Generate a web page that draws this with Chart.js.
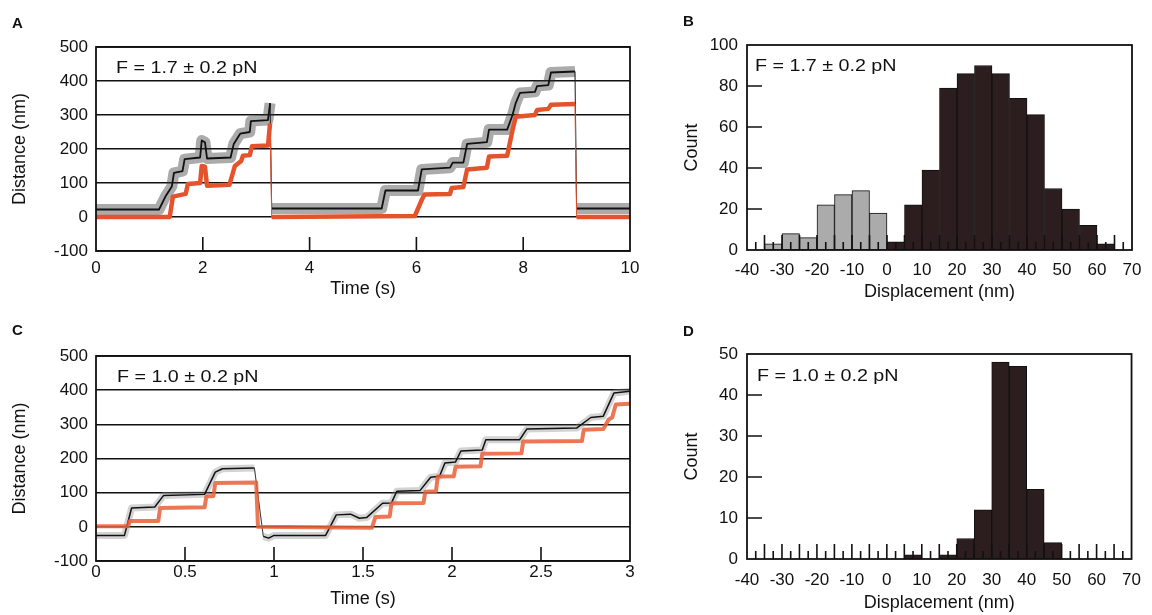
<!DOCTYPE html>
<html>
<head>
<meta charset="utf-8">
<script src="https://cdn.jsdelivr.net/npm/chart.js@4.4.1/dist/chart.umd.min.js"></script>
<style>
  html, body { margin: 0; padding: 0; background: #fff; }
  #wrap { position: relative; width: 1152px; height: 615px; overflow: hidden; background: #fff; }
  canvas { position: absolute; }
</style>
</head>
<body>
<div id="wrap">
  <canvas id="cA" width="660" height="310" style="left:0;top:0"></canvas>
  <canvas id="cB" width="492" height="310" style="left:660px;top:0"></canvas>
  <canvas id="cC" width="660" height="305" style="left:0;top:310px"></canvas>
  <canvas id="cD" width="492" height="305" style="left:660px;top:310px"></canvas>
</div>
<script>
// ---------- Panel A (F = 1.7 pN) traces ----------
const timeBlackA = [0, 1.18, 1.3, 1.42, 1.46, 1.62, 1.66, 1.95, 1.98, 2.04, 2.08, 2.52, 2.58, 2.7, 2.88, 2.9, 3.22, 3.26, 3.29, 5.35, 5.42, 6.03, 6.1, 6.63, 6.68, 6.88, 6.95, 7.32, 7.36, 7.7, 7.8, 7.86, 7.94, 8.22, 8.26, 8.47, 8.52, 8.97, 9.0, 10];
const distBlackA = [22, 22, 60, 90, 130, 135, 170, 175, 225, 220, 172, 175, 215, 245, 250, 282, 285, 335, 25, 25, 78, 78, 140, 145, 160, 160, 215, 220, 257, 257, 300, 335, 365, 368, 385, 388, 425, 428, 25, 25];
const timeRedA = [0, 1.38, 1.44, 1.68, 1.72, 1.95, 1.98, 2.04, 2.08, 2.5, 2.6, 2.72, 2.75, 2.88, 2.92, 3.22, 3.26, 3.29, 5.97, 6.1, 6.15, 6.63, 6.66, 6.88, 6.95, 7.32, 7.36, 7.7, 7.8, 7.86, 8.22, 8.26, 8.47, 8.52, 8.97, 9.0, 10];
const distRedA = [0, 0, 60, 68, 97, 100, 150, 148, 92, 95, 150, 165, 180, 182, 208, 210, 275, 0, 3, 50, 66, 68, 85, 88, 140, 145, 178, 180, 255, 295, 300, 315, 318, 330, 332, 0, 0];

// ---------- Panel C (F = 1.0 pN) traces ----------
const timeBlackC = [0, 0.16, 0.2, 0.33, 0.38, 0.61, 0.67, 0.71, 0.89, 0.94, 0.97, 1.0, 1.29, 1.35, 1.43, 1.48, 1.52, 1.61, 1.66, 1.69, 1.82, 1.88, 1.93, 1.96, 2.02, 2.05, 2.17, 2.19, 2.38, 2.42, 2.7, 2.78, 2.85, 2.91, 3.0];
const distBlackC = [-25, -25, 55, 58, 92, 95, 160, 170, 172, -28, -33, -25, -25, 35, 37, 25, 27, 69, 70, 104, 106, 145, 148, 187, 190, 222, 225, 255, 255, 286, 289, 320, 324, 392, 397];
const timeRedC = [0, 0.18, 0.19, 0.35, 0.36, 0.61, 0.62, 0.66, 0.67, 0.9, 0.91, 1.55, 1.57, 1.65, 1.66, 1.84, 1.85, 1.91, 1.92, 2.01, 2.02, 2.16, 2.17, 2.39, 2.4, 2.73, 2.74, 2.85, 2.88, 2.9, 2.92, 3.0];
const distRedC = [2, 2, 17, 17, 55, 57, 89, 90, 128, 130, 0, -3, 29, 30, 69, 70, 103, 104, 147, 148, 176, 177, 214, 215, 250, 251, 284, 286, 314, 320, 358, 360];

// ---------- Histograms (5 nm bins, centres) ----------
const binsB = [-32.5, -27.5, -22.5, -17.5, -12.5, -7.5, -2.5, 2.5, 7.5, 12.5, 17.5, 22.5, 27.5, 32.5, 37.5, 42.5, 47.5, 52.5, 57.5, 62.5];
const countsB = [3, 8, 6, 22, 27, 29, 18, 4, 22, 39, 79, 86, 90, 86, 74, 66, 30, 20, 12, 3];
const binsD = [7.5, 17.5, 22.5, 27.5, 32.5, 37.5, 42.5, 47.5];
const countsD = [1, 1, 5, 12, 48, 47, 17, 4];

// ---------- Tick values ----------
const innerTicksA = [2, 4, 6, 8];
const innerTicksC = [0.5, 1, 1.5, 2, 2.5];
const innerYTicksB = [20, 40, 60, 80];
const innerYTicksD = [10, 20, 30, 40];

const INK = '#111';
const RED = '#e5532c';
const GRAY_BAR = '#ababab';
const DARK_BAR = '#2c1e1f';

Chart.defaults.font.family = "'Liberation Sans', Arial, Helvetica, sans-serif";
Chart.defaults.font.size = 17;
Chart.defaults.color = INK;

const toPoints = (xs, ys) => xs.map((x, i) => ({ x: x, y: ys[i] }));

const framePlugin = {
  id: 'frame',
  afterDatasetsDraw(chart, args, o) {
    const ctx = chart.ctx, a = chart.chartArea, sx = chart.scales.x, sy = chart.scales.y;
    ctx.save();
    ctx.strokeStyle = INK;
    ctx.lineWidth = 1.6;
    ctx.beginPath();
    (o.xTicks || []).forEach(t => {
      const px = sx.getPixelForValue(t[0]);
      ctx.moveTo(px, a.bottom); ctx.lineTo(px, a.bottom - t[1]);
    });
    (o.yTicks || []).forEach(t => {
      const py = sy.getPixelForValue(t[0]);
      ctx.moveTo(a.left, py); ctx.lineTo(a.left + t[1], py);
    });
    ctx.stroke();
    ctx.lineWidth = 1.8;
    ctx.strokeRect(a.left, a.top, a.right - a.left, a.bottom - a.top);
    ctx.fillStyle = INK;
    if (o.note) {
      ctx.save();
      ctx.font = "16px 'Liberation Sans', Arial, sans-serif";
      ctx.textBaseline = 'alphabetic';
      ctx.translate(o.note.x, o.note.y);
      ctx.scale(1.23, 1);
      ctx.fillText(o.note.text, 0, 0);
      ctx.restore();
    }
    if (o.letter) {
      ctx.font = "bold 15px 'Liberation Sans', Arial, sans-serif";
      ctx.textBaseline = 'alphabetic';
      ctx.fillText(o.letter.text, o.letter.x, o.letter.y);
    }
    ctx.restore();
  }
};
Chart.register(framePlugin);

function steepWidth(thin, thick) {
  return c => (Math.abs(c.p1.parsed.y - c.p0.parsed.y) > 150 ? thin : thick);
}

function traceChart(id, cfg) {
  return new Chart(document.getElementById(id), {
    type: 'line',
    data: {
      datasets: [
        { data: toPoints(cfg.tr, cfg.dr), borderColor: cfg.redColor, borderWidth: cfg.redW, pointRadius: 0, tension: 0, borderJoinStyle: 'round',
          segment: { borderWidth: steepWidth(1, cfg.redW) } },
        { data: toPoints(cfg.tb, cfg.db), borderColor: INK, borderWidth: cfg.coreW, pointRadius: 0, tension: 0, borderJoinStyle: 'round',
          segment: { borderWidth: steepWidth(0.8, cfg.coreW) } },
        { data: toPoints(cfg.tb, cfg.db), borderColor: cfg.fuzzColor, borderWidth: cfg.fuzzW, pointRadius: 0, tension: 0, borderJoinStyle: 'round',
          segment: { borderWidth: steepWidth(1, cfg.fuzzW) } }
      ]
    },
    options: {
      responsive: false, animation: false, devicePixelRatio: 1,
      layout: { padding: { left: 0, top: cfg.top, right: cfg.right, bottom: 0 } },
      plugins: {
        legend: { display: false }, tooltip: { enabled: false },
        frame: { xTicks: cfg.innerX.map(v => [v, 14]), note: cfg.note, letter: cfg.letter }
      },
      scales: {
        x: {
          type: 'linear', min: cfg.xmin, max: cfg.xmax,
          ticks: { stepSize: cfg.xstep, padding: cfg.xpad, maxRotation: 0, autoSkip: false, callback: v => String(v) },
          grid: { display: false, drawTicks: false }, border: { display: false },
          title: { display: true, text: 'Time (s)', font: { size: 18 }, padding: { top: 0, bottom: cfg.xtitlePad } },
          afterFit: s => { s.height = cfg.xh; }
        },
        y: {
          min: -100, max: 500,
          ticks: { stepSize: 100, padding: 8 },
          grid: { color: INK, lineWidth: 1.5, drawTicks: false }, border: { display: false },
          title: { display: true, text: 'Distance (nm)', font: { size: 18 }, padding: { top: 9, bottom: 0 } },
          afterFit: s => { s.width = 96; }
        }
      }
    }
  });
}

function histChart(id, cfg) {
  const hTicks = [];
  for (let v = -37.5; v < 70; v += 2.5) hTicks.push([v, (Math.abs(v % 5) < 0.01) ? 15 : 8]);
  return new Chart(document.getElementById(id), {
    type: 'bar',
    data: {
      datasets: [{
        data: toPoints(cfg.bins, cfg.counts),
        backgroundColor: cfg.bins.map(b => (b < 0 ? GRAY_BAR : DARK_BAR)),
        borderColor: INK, borderWidth: 1, borderSkipped: false,
        barPercentage: 1, categoryPercentage: 1, grouped: false
      }]
    },
    options: {
      responsive: false, animation: false, devicePixelRatio: 1,
      layout: { padding: { left: 0, top: cfg.top, right: cfg.right, bottom: 0 } },
      plugins: {
        legend: { display: false }, tooltip: { enabled: false },
        frame: { xTicks: hTicks, yTicks: cfg.innerY.map(v => [v, 15]), note: cfg.note, letter: cfg.letter }
      },
      scales: {
        x: {
          type: 'linear', min: -40, max: 70, offset: false,
          ticks: { stepSize: 10, padding: cfg.xpad, maxRotation: 0, autoSkip: false },
          grid: { display: false, drawTicks: false }, border: { display: false },
          title: { display: true, text: 'Displacement (nm)', font: { size: 18 }, padding: { top: 0, bottom: cfg.xtitlePad } },
          afterFit: s => { s.height = cfg.xh; }
        },
        y: {
          min: 0, max: cfg.ymax,
          ticks: { stepSize: cfg.ystep, padding: 9 },
          grid: { display: false, drawTicks: false }, border: { display: false },
          title: { display: true, text: 'Count', font: { size: 18 }, padding: { top: 21, bottom: 0 } },
          afterFit: s => { s.width = 87; }
        }
      }
    }
  });
}

traceChart('cA', {
  tb: timeBlackA, db: distBlackA, tr: timeRedA, dr: distRedA,
  redColor: RED, redW: 4.5, coreW: 1.8, fuzzColor: 'rgba(55,55,55,0.42)', fuzzW: 11,
  top: 47, right: 30, xh: 59, xmin: 0, xmax: 10, xstep: 2, xpad: 7, xtitlePad: 10,
  innerX: innerTicksA,
  note: { text: 'F = 1.7 \u00b1 0.2 pN', x: 116, y: 73 },
  letter: { text: 'A', x: 12, y: 28 }
});

traceChart('cC', {
  tb: timeBlackC, db: distBlackC, tr: timeRedC, dr: distRedC,
  redColor: 'rgba(232,95,55,0.85)', redW: 4, coreW: 1.5, fuzzColor: 'rgba(130,130,130,0.35)', fuzzW: 7,
  top: 46, right: 30, xh: 54, xmin: 0, xmax: 3, xstep: 0.5, xpad: 1, xtitlePad: 5,
  innerX: innerTicksC,
  note: { text: 'F = 1.0 \u00b1 0.2 pN', x: 117, y: 72 },
  letter: { text: 'C', x: 12, y: 25 }
});

histChart('cB', {
  bins: binsB, counts: countsB, ymax: 100, ystep: 20, innerY: innerYTicksB,
  top: 45, right: 20, xh: 60, xpad: 10, xtitlePad: 7,
  note: { text: 'F = 1.7 \u00b1 0.2 pN', x: 95, y: 71 },
  letter: { text: 'B', x: 23, y: 26 }
});

histChart('cD', {
  bins: binsD, counts: countsD, ymax: 50, ystep: 10, innerY: innerYTicksD,
  top: 44, right: 19, xh: 56, xpad: 11, xtitlePad: 1,
  note: { text: 'F = 1.0 \u00b1 0.2 pN', x: 97, y: 71 },
  letter: { text: 'D', x: 23, y: 26 }
});
</script>
</body>
</html>
